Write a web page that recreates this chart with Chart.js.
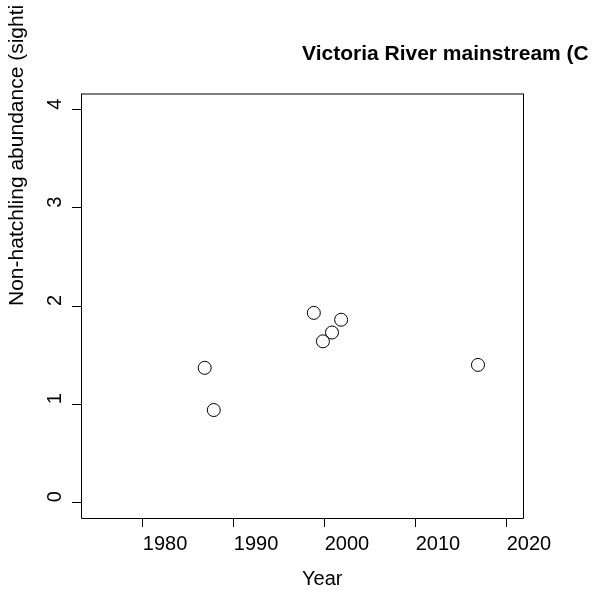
<!DOCTYPE html>
<html>
<head>
<meta charset="utf-8">
<script src="https://cdn.jsdelivr.net/npm/chart.js@4/dist/chart.umd.min.js"></script>
<style>
  html, body { margin: 0; padding: 0; background: #fff; }
  #wrap { width: 592px; height: 593px; }
</style>
</head>
<body>
<div id="wrap"><canvas id="abundance" width="592" height="593"></canvas></div>
<script>
// survey years and non-hatchling abundance
const years = [1986.8, 1987.8, 1998.8, 1999.8, 2000.8, 2001.8, 2016.85];
const abundance = [1.37, 0.94, 1.93, 1.64, 1.73, 1.86, 1.40];

const xTicks = [1980, 1990, 2000, 2010, 2020];
const yTicks = [0, 1, 2, 3, 4];

// text as it shows in the picture (cut off at the edge)
const titleText = "Victoria River mainstream (C";
const xLabel = "Year";
const yLabel = "Non-hatchling abundance (sighti";

const fontFam = "'Liberation Sans', Arial, sans-serif";

const points = years.map((y, i) => ({x: y, y: abundance[i]}));

// box, titles and y tick labels -- everything left-adjusted like par(adj=0)
const rStyle = {
  id: 'rStyle',
  afterDraw(chart) {
    const ctx = chart.ctx;
    const a = chart.chartArea;
    const midX = (a.left + a.right) / 2;
    const midY = (a.top + a.bottom) / 2;
    const l = Math.round(a.left) + 0.5, r = Math.round(a.right) + 0.5;
    const t = Math.round(a.top), b = Math.round(a.bottom) + 0.5;
    ctx.save();
    ctx.strokeStyle = '#000';
    ctx.lineWidth = 1;
    ctx.beginPath();
    ctx.moveTo(l, t);
    ctx.lineTo(l, b);
    ctx.lineTo(r, b);
    ctx.lineTo(r, t);
    ctx.stroke();
    // top edge sits between pixel rows in the original, so it looks grey
    ctx.beginPath();
    ctx.moveTo(l - 0.5, t);
    ctx.lineTo(r + 0.5, t);
    ctx.stroke();

    ctx.fillStyle = '#000';
    ctx.textBaseline = 'alphabetic';
    ctx.textAlign = 'left';

    // y tick labels, rotated, starting at the tick
    const ys = chart.scales.y;
    ctx.font = '20px ' + fontFam;
    yTicks.forEach(v => {
      const py = ys.getPixelForValue(v);
      ctx.save();
      ctx.translate(61, py);
      ctx.rotate(-Math.PI / 2);
      ctx.fillText(String(v), 0, 0);
      ctx.restore();
    });

    // x axis title
    ctx.fillText(xLabel, midX, 585);

    // y axis title
    ctx.save();
    ctx.font = '21px ' + fontFam;
    ctx.translate(23, midY);
    ctx.rotate(-Math.PI / 2);
    ctx.fillText(yLabel, 0, 0);
    ctx.restore();

    // main title
    ctx.font = 'bold 21px ' + fontFam;
    ctx.fillText(titleText, midX, 60);
    ctx.restore();
  }
};

const data = {
  datasets: [{
    label: 'Non-hatchling abundance',
    data: points,
    pointStyle: 'circle',
    pointRadius: 6.5,
    pointHoverRadius: 6.5,
    pointBorderColor: '#000',
    pointBackgroundColor: 'rgba(0,0,0,0)',
    pointBorderWidth: 1,
    showLine: false
  }]
};

const config = {
  type: 'scatter',
  data,
  options: {
    responsive: false,
    devicePixelRatio: 1,
    animation: false,
    layout: {padding: {top: 94, right: 69, left: 0, bottom: 0}},
    plugins: {legend: {display: false}, tooltip: {enabled: false}},
    scales: {
      x: {
        type: 'linear',
        min: 1973.2,
        max: 2021.8,
        afterBuildTicks: (scale) => { scale.ticks = xTicks.map(v => ({value: v})); },
        afterFit: (scale) => { scale.height = 75; },
        border: {display: false},
        grid: {drawOnChartArea: false, tickLength: 9, color: '#000', tickColor: '#000'},
        ticks: {
          align: 'start',
          padding: 5,
          color: '#000',
          maxRotation: 0,
          font: {family: fontFam, size: 20},
          callback: (v) => String(v)
        }
      },
      y: {
        type: 'linear',
        min: -0.16,
        max: 4.16,
        afterBuildTicks: (scale) => { scale.ticks = yTicks.map(v => ({value: v})); },
        afterFit: (scale) => { scale.width = 81; },
        border: {display: false},
        grid: {drawOnChartArea: false, tickLength: 9, color: '#000', tickColor: '#000'},
        ticks: {display: false}
      }
    }
  },
  plugins: [rStyle]
};

const canvas = document.getElementById('abundance');
const abundanceChart = new Chart(canvas, config);
</script>
</body>
</html>
